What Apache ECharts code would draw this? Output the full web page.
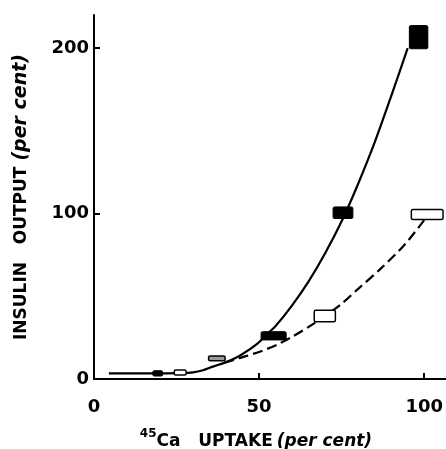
<!DOCTYPE html>
<html>
<head>
<meta charset="utf-8">
<script src="https://cdn.jsdelivr.net/npm/echarts@6/dist/echarts.min.js"></script>
<style>
html,body{margin:0;padding:0;background:#fff;}
#chart{width:446px;height:449px;}
</style>
</head>
<body>
<div id="chart"></div>
<script>
// ---- data ----
const xTickValues = [0, 50, 100];
const yTickValues = [0, 100, 200];

// solid curve (fitted line through filled boxes)
const solidX = [4.5, 12, 20, 26, 30, 33, 36, 40, 44.5, 49.6, 52.6, 55, 60, 65, 70, 75.4, 80, 85, 90, 95];
const solidY = [3.4, 3.4, 3.4, 3.5, 4.0, 5.3, 7.5, 10.2, 14.5, 21.5, 27.5, 32, 44.5, 59, 76, 97, 118, 143, 171, 200];

// dashed curve (fitted line through open boxes)
const dashedX = [39.5, 45.5, 50.6, 55.7, 60, 65, 69.9, 75, 80, 87, 94, 100];
const dashedY = [9.8, 13.5, 16.8, 21, 25.5, 31.5, 38, 45.5, 54.5, 67, 81, 96];

// filled boxes: mean and half-range (SEM) in x and y
const filledX = [19.3, 54.4, 75.4, 98.3];
const filledY = [3.4, 26.1, 100.5, 206.6];
const filledXErr = [1.5, 3.8, 3.0, 2.8];
const filledYErr = [1.6, 2.5, 3.5, 7.0];

// open boxes
const openX = [26.1, 69.9, 100.9];
const openY = [3.9, 38.1, 99.4];
const openXErr = [1.8, 3.2, 4.8];
const openYErr = [1.5, 3.5, 3.0];

// shaded box
const shadedX = [37.2];
const shadedY = [12.5];
const shadedXErr = [2.5];
const shadedYErr = [1.4];

// ---- build chart ----
const zip = (a, b) => a.map((v, i) => [v, b[i]]);
const boxData = (x, y, xe, ye) => x.map((v, i) => [v, y[i], xe[i], ye[i]]);

function boxSeries(data, fill, lw) {
  return {
    type: 'custom',
    data: data,
    z: 10,
    clip: false,
    renderItem: function (params, api) {
      const x = api.value(0), y = api.value(1), xe = api.value(2), ye = api.value(3);
      const p1 = api.coord([x - xe, y + ye]);
      const p2 = api.coord([x + xe, y - ye]);
      return {
        type: 'rect',
        shape: { x: p1[0], y: p1[1], width: p2[0] - p1[0], height: p2[1] - p1[1], r: 1.5 },
        style: { fill: fill, stroke: '#000', lineWidth: lw }
      };
    }
  };
}

const FONT = 'DejaVu Sans';
const chart = echarts.init(document.getElementById('chart'), null, { renderer: 'canvas' });
chart.setOption({
  backgroundColor: '#fff',
  animation: false,
  grid: { left: 94, top: 15, width: 352, height: 364, containLabel: false, outerBoundsMode: 'none' },
  xAxis: {
    type: 'value',
    min: 0,
    max: 106.6,
    interval: 50,
    splitLine: { show: false },
    axisLine: { lineStyle: { color: '#000', width: 2 } },
    axisTick: { inside: true, length: 6, lineStyle: { color: '#000', width: 2 }, customValues: xTickValues.slice(1) },
    axisLabel: { customValues: xTickValues, margin: 19, color: '#000', fontFamily: FONT, fontWeight: 'bold', fontSize: 18 },
    name: '{sup|45}{b|Ca   UPTAKE}{i|(per cent)}',
    nameLocation: 'middle',
    nameGap: 49,
    nameTextStyle: {
      padding: [0, 28, 0, 0],
      rich: {
        sup: { fontFamily: FONT, fontWeight: 'bold', fontSize: 12, color: '#000', verticalAlign: 'top', lineHeight: 22 },
        b: { fontFamily: FONT, fontWeight: 'bold', fontSize: 17, color: '#000', lineHeight: 22, verticalAlign: 'bottom' },
        i: { fontFamily: FONT, fontWeight: 'bold', fontStyle: 'italic', fontSize: 17, color: '#000', lineHeight: 22, padding: [0, 0, 0, 4], verticalAlign: 'bottom' }
      }
    }
  },
  yAxis: {
    type: 'value',
    min: 0,
    max: 220,
    interval: 100,
    splitLine: { show: false },
    axisLine: { lineStyle: { color: '#000', width: 2 } },
    axisTick: { inside: true, length: 6, lineStyle: { color: '#000', width: 2 }, customValues: yTickValues.slice(1) },
    axisLabel: { customValues: yTickValues, margin: 5, color: '#000', fontFamily: FONT, fontWeight: 'bold', fontSize: 18 },
    name: '{b|INSULIN   OUTPUT }{i|(per cent)}',
    nameLocation: 'middle',
    nameRotate: 90,
    nameGap: 63,
    nameTextStyle: {
      rich: {
        b: { fontFamily: FONT, fontWeight: 'bold', fontSize: 17, color: '#000' },
        i: { fontFamily: FONT, fontWeight: 'bold', fontStyle: 'italic', fontSize: 19, color: '#000' }
      }
    }
  },
  series: [
    {
      type: 'line',
      data: zip(solidX, solidY),
      smooth: 0.3,
      showSymbol: false,
      lineStyle: { color: '#000', width: 2.2 },
      z: 3
    },
    {
      type: 'line',
      data: zip(dashedX, dashedY),
      smooth: 0.3,
      showSymbol: false,
      lineStyle: { color: '#000', width: 2.2, type: [10, 5] },
      z: 3
    },
    boxSeries(boxData(filledX, filledY, filledXErr, filledYErr), '#000', 1),
    boxSeries(boxData(openX, openY, openXErr, openYErr), '#fff', 1.5),
    boxSeries(boxData(shadedX, shadedY, shadedXErr, shadedYErr), '#9a9a9a', 1.5)
  ]
});
</script>
</body>
</html>
